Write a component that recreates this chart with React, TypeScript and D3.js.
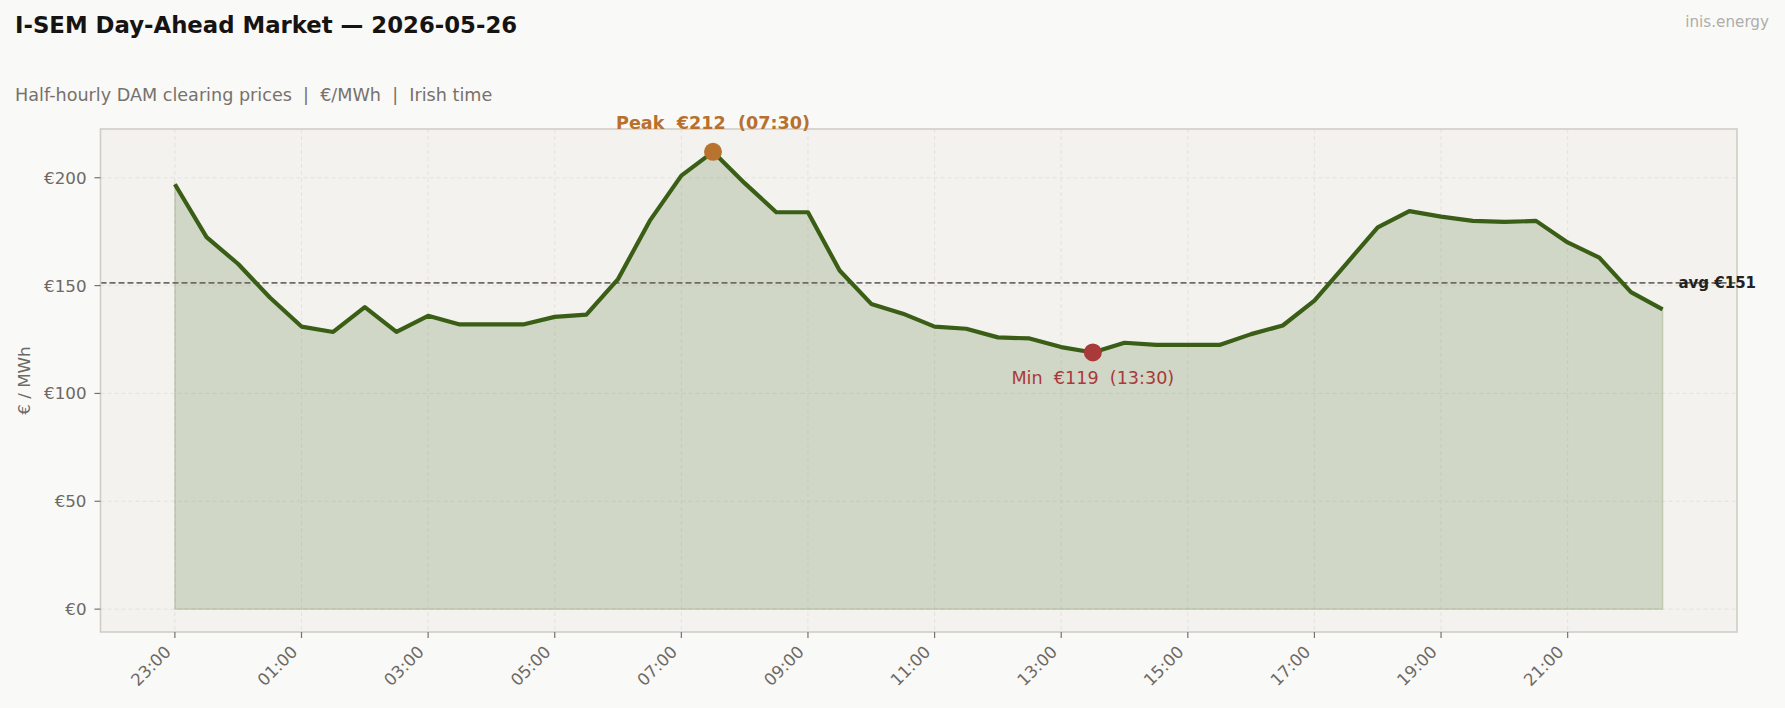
import { useEffect, useRef } from 'react';
import * as d3 from 'd3';

// half-hourly DAM clearing prices, Irish time (delivery day 2026-05-26, from 23:00 the day before)
const times = [
  '23:00', '23:30', '00:00', '00:30', '01:00', '01:30', '02:00', '02:30',
  '03:00', '03:30', '04:00', '04:30', '05:00', '05:30', '06:00', '06:30',
  '07:00', '07:30', '08:00', '08:30', '09:00', '09:30', '10:00', '10:30',
  '11:00', '11:30', '12:00', '12:30', '13:00', '13:30', '14:00', '14:30',
  '15:00', '15:30', '16:00', '16:30', '17:00', '17:30', '18:00', '18:30',
  '19:00', '19:30', '20:00', '20:30', '21:00', '21:30', '22:00', '22:30',
];

const prices = [
  197, 172.5, 160, 144.5, 131, 128.5, 140, 128.5,
  136, 132, 132, 132, 135.5, 136.5, 153, 180,
  201, 212, 197.5, 184, 184, 157, 141.5, 137,
  131, 130, 126, 125.5, 121.5, 119, 123.5, 122.5,
  122.5, 122.5, 127.5, 131.5, 143, 160, 177, 184.5,
  182, 180, 179.5, 180, 170, 163, 147, 139,
];

const tickLabels = ['23:00', '01:00', '03:00', '05:00', '07:00', '09:00', '11:00', '13:00', '15:00', '17:00', '19:00', '21:00'];
const yTicks = [0, 50, 100, 150, 200];

const W = 1785;
const H = 708;
const FONT = '"DejaVu Sans", sans-serif';
const LINE = '#3a5e16';

const parse = d3.timeParse('%Y-%m-%d %H:%M');
const toDate = (t: string) => parse(`2026-05-${t >= '23:00' ? '25' : '26'} ${t}`) as Date;

export default function App() {
  const svgRef = useRef<SVGSVGElement>(null);

  useEffect(() => {
    if (!svgRef.current) return;
    document.body.style.margin = '0';
    const svg = d3.select(svgRef.current);
    svg.selectAll('*').remove();

    const m = { left: 100.5, right: 1737, top: 129, bottom: 632 };
    const data = times.map((t, i) => ({ t, date: toDate(t), v: prices[i] }));

    // matplotlib-style 5% margins
    const t0 = data[0].date.getTime();
    const t1 = data[data.length - 1].date.getTime();
    const padT = (t1 - t0) * 0.05;
    const x = d3.scaleTime().domain([new Date(t0 - padT), new Date(t1 + padT)]).range([m.left, m.right]);
    const vMax = d3.max(prices) as number;
    const y = d3.scaleLinear().domain([-vMax * 0.05, vMax * 1.05]).range([m.bottom, m.top]);

    svg.append('rect').attr('width', W).attr('height', H).attr('fill', '#f9f9f7');
    svg.append('rect')
      .attr('x', m.left).attr('y', m.top)
      .attr('width', m.right - m.left).attr('height', m.bottom - m.top)
      .attr('fill', '#f3f2ee');

    // grid
    const grid = svg.append('g').attr('stroke', '#e4e1dc').attr('stroke-width', 0.9).attr('stroke-dasharray', '4,3');
    yTicks.forEach(v => {
      grid.append('line').attr('x1', m.left).attr('x2', m.right).attr('y1', y(v)).attr('y2', y(v));
    });
    tickLabels.forEach(t => {
      grid.append('line').attr('x1', x(toDate(t))).attr('x2', x(toDate(t))).attr('y1', m.top).attr('y2', m.bottom);
    });

    // area
    const area = d3.area<any>().x(d => x(d.date)).y0(y(0)).y1(d => y(d.v));
    svg.append('path').datum(data).attr('d', area)
      .attr('fill', LINE).attr('fill-opacity', 0.18)
      .attr('stroke', LINE).attr('stroke-opacity', 0.18).attr('stroke-width', 1.5);

    // average
    const avg = d3.mean(prices) as number;
    svg.append('line')
      .attr('x1', m.left).attr('x2', m.right).attr('y1', y(avg)).attr('y2', y(avg))
      .attr('stroke', '#6e6a66').attr('stroke-width', 1.6).attr('stroke-dasharray', '6,3');

    // price line
    const line = d3.line<any>().x(d => x(d.date)).y(d => y(d.v));
    svg.append('path').datum(data).attr('d', line)
      .attr('fill', 'none').attr('stroke', LINE).attr('stroke-width', 4.2)
      .attr('stroke-linejoin', 'round');

    // spines
    svg.append('rect')
      .attr('x', m.left).attr('y', m.top)
      .attr('width', m.right - m.left).attr('height', m.bottom - m.top)
      .attr('fill', 'none').attr('stroke', '#d1cdc6').attr('stroke-width', 1.6);

    // y axis
    const yAxis = svg.append('g');
    yTicks.forEach(v => {
      yAxis.append('line').attr('x1', m.left - 6).attr('x2', m.left).attr('y1', y(v)).attr('y2', y(v))
        .attr('stroke', '#77726e').attr('stroke-width', 1.2);
      yAxis.append('text').attr('x', m.left - 14).attr('y', y(v))
        .attr('text-anchor', 'end').attr('dominant-baseline', 'central')
        .attr('font-family', FONT).attr('font-size', 16.7).attr('fill', '#6e6964')
        .text(`€${v}`);
    });
    svg.append('text')
      .attr('transform', `translate(24,${(m.top + m.bottom) / 2}) rotate(-90)`)
      .attr('text-anchor', 'middle').attr('dominant-baseline', 'central')
      .attr('font-family', FONT).attr('font-size', 16.7).attr('fill', '#6e6964')
      .text('€ / MWh');

    // x axis
    const xAxis = svg.append('g');
    tickLabels.forEach(t => {
      const px = x(toDate(t));
      xAxis.append('line').attr('x1', px).attr('x2', px).attr('y1', m.bottom).attr('y2', m.bottom + 6)
        .attr('stroke', '#77726e').attr('stroke-width', 1.2);
      xAxis.append('text')
        .attr('transform', `translate(${px - 3},${m.bottom + 21}) rotate(-45)`)
        .attr('text-anchor', 'end')
        .attr('font-family', FONT).attr('font-size', 16.7).attr('fill', '#6e6964')
        .text(t);
    });

    // avg label
    const last = data[data.length - 1];
    svg.append('text')
      .attr('x', x(d3.timeMinute.offset(last.date, 15))).attr('y', y(avg))
      .attr('dominant-baseline', 'central')
      .attr('font-family', FONT).attr('font-size', 15).attr('font-weight', 'bold').attr('fill', '#222')
      .text(`avg €${Math.round(avg)}`);

    // peak & min
    const pk = data[d3.maxIndex(prices)];
    const mn = data[d3.minIndex(prices)];
    svg.append('circle').attr('cx', x(pk.date)).attr('cy', y(pk.v)).attr('r', 9).attr('fill', '#b8732f');
    svg.append('text')
      .attr('x', x(pk.date)).attr('y', y(pk.v) - 23)
      .attr('text-anchor', 'middle').style('white-space', 'pre')
      .attr('font-family', FONT).attr('font-size', 17.6).attr('font-weight', 'bold').attr('fill', '#b8702c')
      .text(`Peak  €${Math.round(pk.v)}  (${pk.t})`);
    svg.append('circle').attr('cx', x(mn.date)).attr('cy', y(mn.v)).attr('r', 9).attr('fill', '#a83a3a');
    svg.append('text')
      .attr('x', x(mn.date)).attr('y', y(mn.v) + 32)
      .attr('text-anchor', 'middle').style('white-space', 'pre')
      .attr('font-family', FONT).attr('font-size', 17.6).attr('fill', '#a83a3a')
      .text(`Min  €${Math.round(mn.v)}  (${mn.t})`);

    // titles
    svg.append('text').attr('x', 15).attr('y', 33)
      .attr('font-family', FONT).attr('font-size', 22.8).attr('font-weight', 'bold').attr('fill', '#161412')
      .text('I-SEM Day-Ahead Market — 2026-05-26');
    svg.append('text').attr('x', 15).attr('y', 101).style('white-space', 'pre')
      .attr('font-family', FONT).attr('font-size', 17.6).attr('fill', '#77716c')
      .text('Half-hourly DAM clearing prices  |  €/MWh  |  Irish time');
    svg.append('text').attr('x', 1769).attr('y', 27)
      .attr('text-anchor', 'end')
      .attr('font-family', FONT).attr('font-size', 15.2).attr('fill', '#b0adaa')
      .text('inis.energy');
  }, []);

  return <svg ref={svgRef} width={W} height={H} style={{ display: 'block' }} />;
}
